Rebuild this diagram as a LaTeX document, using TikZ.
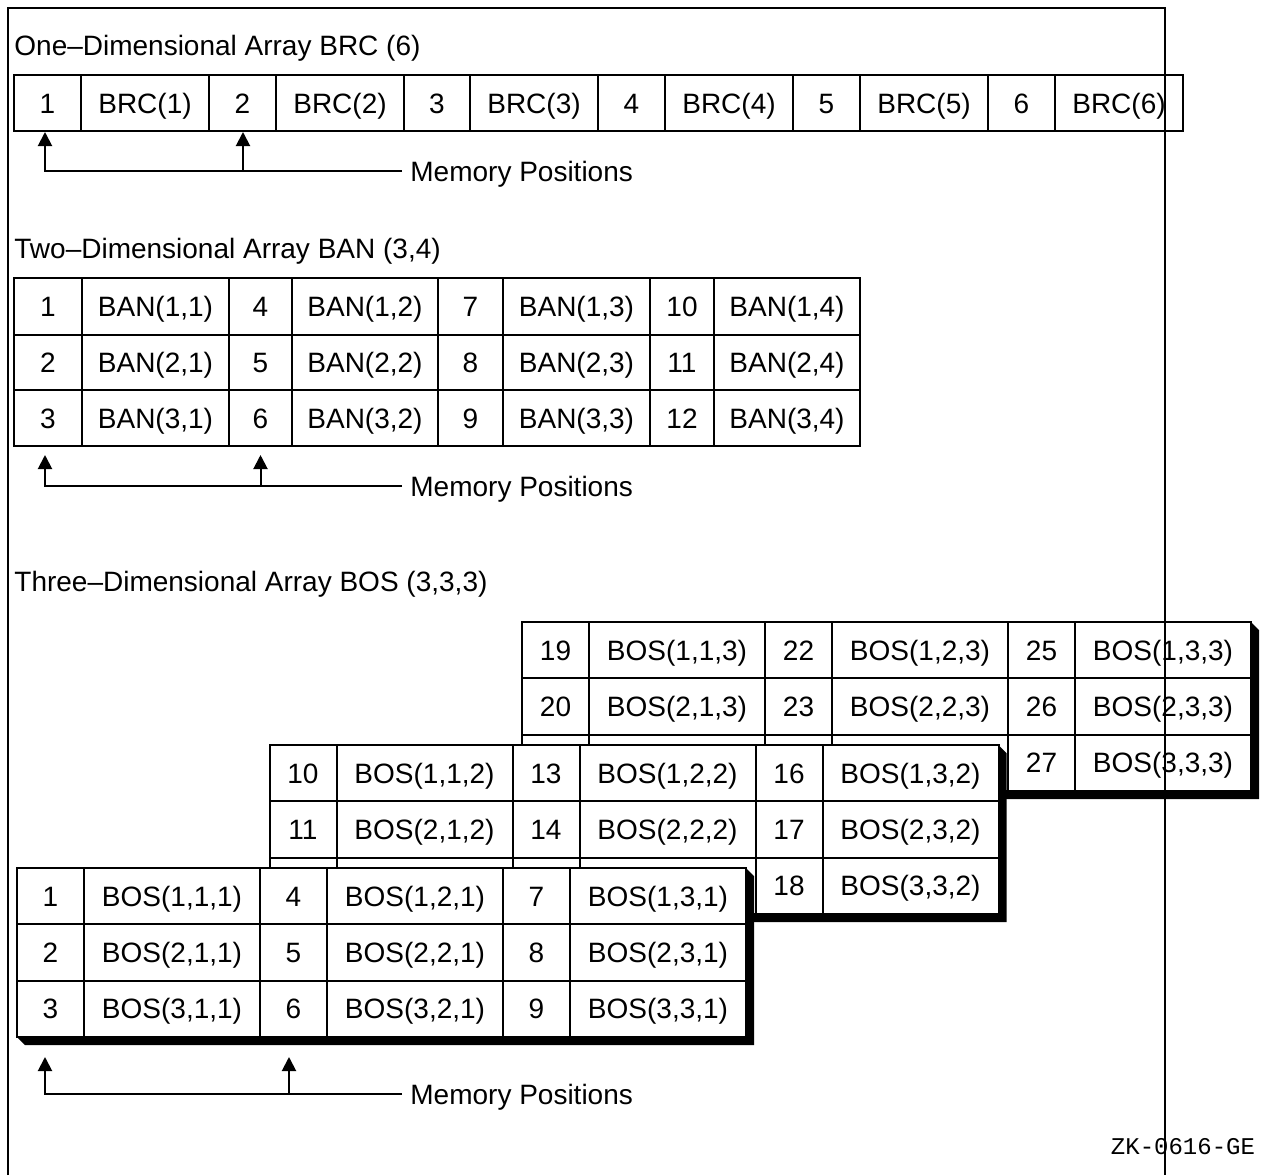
\documentclass[tikz,border=0pt]{standalone}
\usepackage{fontspec}
\setmainfont{Liberation Sans}
\newfontfamily\zkfont{Liberation Mono}
\usetikzlibrary{arrows.meta}
\tikzset{
  cellbox/.style={draw, line width=1pt, fill=white, inner sep=0pt, anchor=center, text height=10pt, text depth=0pt, font=\fontsize{14}{16}\selectfont},
  titletext/.style={anchor=west, inner sep=0pt, text height=10pt, text depth=0pt, font=\fontsize{14}{16}\selectfont},
  memlabel/.style={anchor=west, inner xsep=4pt, inner ysep=0pt, text height=10pt, text depth=0pt, font=\fontsize{14}{16}\selectfont},
  memarrow/.style={line width=1pt, -{Triangle[width=7pt,length=7pt]}},
  shadowfill/.style={fill=black},
  framestyle/.style={line width=0.75pt},
  zklabel/.style={inner sep=0pt, text height=7pt, text depth=0pt, font=\zkfont\fontsize{12}{14}\selectfont},
}
% name, x1, y1, x2, y2, text  (pixel coordinates)
\newcommand\mkcell[6]{%
  \pgfmathsetmacro\mycw{(#4-#2)*0.5}%
  \pgfmathsetmacro\mych{(#5-#3)*0.5}%
  \node[cellbox, minimum width=\mycw pt, minimum height=\mych pt] (#1) at ({(#2+#4)/2},{(#3+#5)/2}) {#6};%
}
\begin{document}
\begin{tikzpicture}[x=0.5pt,y=-0.5pt]
\useasboundingbox (0,0) rectangle (1265,1175);

% ---------- One-dimensional ----------
\node[titletext] (t1) at (14,45) {One–Dimensional Array BRC (6)};
\foreach \i/\a/\b/\c in {1/14/81/209, 2/209/276/404, 3/404/470/598, 4/598/665/793, 5/793/860/988, 6/988/1055/1183} {
  \mkcell{brcn\i}{\a}{75}{\b}{131}{\i}
  \mkcell{brc\i}{\b}{75}{\c}{131}{BRC(\i)}
}
\node[memlabel] (mp1) at (402,171) {Memory Positions};
\coordinate (a11) at ([xshift=-1.25pt]brcn1.south);
\coordinate (a12) at ([xshift=0.25pt]brcn2.south);
\draw[memarrow] (mp1.west) -| (a11);
\draw[memarrow] (a12 |- mp1.west) -- (a12);

% ---------- Two-dimensional ----------
\node[titletext] (t2) at (14,248) {Two–Dimensional Array BAN (3,4)};
\foreach \j/\a/\b/\c in {1/14/82/229, 2/229/292/438, 3/438/503/650, 4/650/714/860} {
  \foreach \r/\ya/\yb in {1/278/335, 2/335/390, 3/390/446} {
    \pgfmathtruncatemacro\mynum{(\j-1)*3+\r}
    \mkcell{bann\mynum}{\a}{\ya}{\b}{\yb}{\mynum}
    \mkcell{ban\r\j}{\b}{\ya}{\c}{\yb}{BAN(\r,\j)}
  }
}
\node[memlabel] (mp2) at (402,486) {Memory Positions};
\coordinate (a21) at ([xshift=-1.5pt,yshift=-4pt]bann3.south);
\coordinate (a22) at ([xshift=0pt,yshift=-4pt]bann6.south);
\draw[memarrow] (mp2.west) -| (a21);
\draw[memarrow] (a22 |- mp2.west) -- (a22);

% ---------- Three-dimensional ----------
\node[titletext] (t3) at (14,581) {Three–Dimensional Array BOS (3,3,3)};
\foreach \k in {2,1,0} {
  \pgfmathsetmacro\L{17+252.5*\k}
  \pgfmathsetmacro\T{868-123*\k}
  \fill[shadowfill] (\L,{\T+169}) -- ({\L+8},{\T+177}) -- ({\L+737},{\T+177})
     -- ({\L+737},{\T+8}) -- ({\L+729},\T) -- ({\L+729},{\T+169}) -- cycle;
  \foreach \r in {1,2,3} {
    \foreach \j in {1,2,3} {
      \pgfmathsetmacro\xa{\L+(\j-1)*243}
      \pgfmathsetmacro\xb{\xa+67}
      \pgfmathsetmacro\xc{\xb+176}
      \pgfmathsetmacro\ya{\T+(\r-1)*56.33}
      \pgfmathsetmacro\yb{\ya+56.33}
      \pgfmathtruncatemacro\mynum{9*\k+3*(\j-1)+\r}
      \pgfmathtruncatemacro\lay{\k+1}
      % cells hidden behind the next layer carry no text
      \pgfmathtruncatemacro\hidden{(\k>0)&&(\r==3)&&(\j<3)}
      \ifnum\hidden=1
        \mkcell{bosn\mynum}{\xa}{\ya}{\xb}{\yb}{}
        \mkcell{bos\r\j\lay}{\xb}{\ya}{\xc}{\yb}{}
      \else
        \mkcell{bosn\mynum}{\xa}{\ya}{\xb}{\yb}{\mynum}
        \mkcell{bos\r\j\lay}{\xb}{\ya}{\xc}{\yb}{BOS(\r,\j,\lay)}
      \fi
    }
  }
}
\node[memlabel] (mp3) at (402,1094) {Memory Positions};
\coordinate (a31) at ([xshift=-2.75pt,yshift=-9.5pt]bosn3.south);
\coordinate (a32) at ([xshift=-2.25pt,yshift=-9.5pt]bosn6.south);
\draw[memarrow] (mp3.west) -| (a31);
\draw[memarrow] (a32 |- mp3.west) -- (a32);

% ---------- figure id and frame ----------
\node[zklabel] (zk) at (1183,1147) {ZK-0616-GE};
\draw[framestyle] (8,1175) -- (8,8) -- (1165,8) -- (1165,1175);
\end{tikzpicture}
\end{document}
